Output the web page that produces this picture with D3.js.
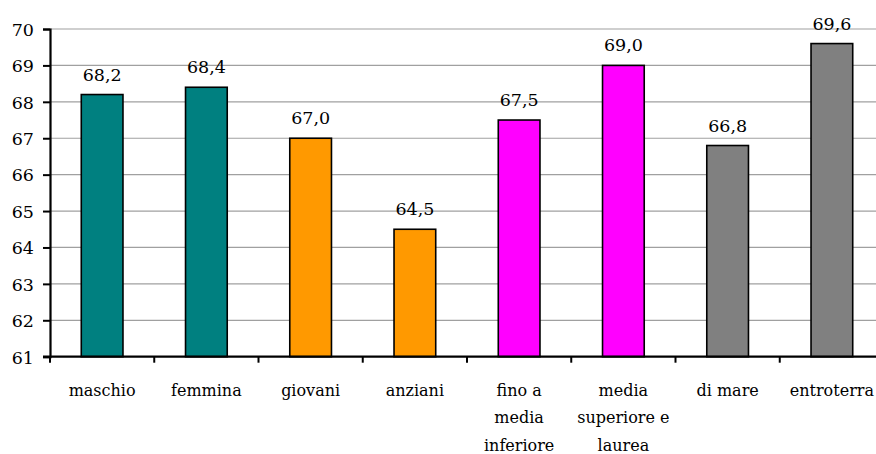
<!DOCTYPE html>
<html>
<head>
<meta charset="utf-8">
<script src="https://cdn.jsdelivr.net/npm/d3@7"></script>
<style>
  html, body { margin: 0; padding: 0; background: #fff; }
  svg { display: block; }
</style>
</head>
<body>
<svg id="chart" width="876" height="454"></svg>
<script>
// Categories (multi-line labels split on "\n")
const categories = [
  "maschio",
  "femmina",
  "giovani",
  "anziani",
  "fino a\nmedia\ninferiore",
  "media\nsuperiore e\nlaurea",
  "di mare",
  "entroterra"
];
const values = [68.2, 68.4, 67.0, 64.5, 67.5, 69.0, 66.8, 69.6];
const barColors = ["#008080", "#008080", "#FF9900", "#FF9900", "#FF00FF", "#FF00FF", "#808080", "#808080"];
const yTicks = [61, 62, 63, 64, 65, 66, 67, 68, 69, 70];

const FONT = "'DejaVu Serif', serif";
const FS = 17.5;      // tick and value labels
const FS_CAT = 16;    // category labels
const svg = d3.select("#chart");
const margin = { left: 50, top: 29, right: 884, bottom: 356.7 };

const x = d3.scaleBand()
  .domain(categories)
  .range([margin.left, margin.right])
  .paddingInner(0.6)
  .paddingOuter(0.3);

const y = d3.scaleLinear().domain([61, 70]).range([margin.bottom, margin.top]);

// horizontal gridlines
svg.append("g")
  .selectAll("line")
  .data(yTicks.filter(d => d > 61))
  .join("line")
  .attr("x1", margin.left)
  .attr("x2", margin.right)
  .attr("y1", d => y(d))
  .attr("y2", d => y(d))
  .attr("stroke", "#a0a0a0")
  .attr("stroke-width", 1.2);

// bars
svg.append("g")
  .selectAll("rect")
  .data(categories)
  .join("rect")
  .attr("x", d => x(d))
  .attr("width", x.bandwidth())
  .attr("y", (d, i) => y(values[i]))
  .attr("height", (d, i) => y(61) - y(values[i]))
  .attr("fill", (d, i) => barColors[i])
  .attr("stroke", "#000")
  .attr("stroke-width", 1.6);

// value labels
const fmt = v => v.toFixed(1).replace(".", ",");
svg.append("g")
  .selectAll("text")
  .data(categories)
  .join("text")
  .attr("x", d => x(d) + x.bandwidth() / 2)
  .attr("y", (d, i) => y(values[i]) - 14)
  .attr("text-anchor", "middle")
  .style("font-family", FONT)
  .attr("font-size", FS)
  .text((d, i) => fmt(values[i]));

// y axis
const yAxis = svg.append("g")
  .attr("transform", `translate(${margin.left},0)`)
  .call(d3.axisLeft(y).tickValues(yTicks).tickSize(7).tickPadding(9).tickFormat(d3.format("d")));
yAxis.attr("font-size", FS);
yAxis.selectAll("text").style("font-family", FONT).attr("dy", "0.36em");
yAxis.select(".domain").attr("stroke-width", 2.2);
yAxis.selectAll(".tick line").attr("stroke-width", 2);

// x axis: ticks at band boundaries
const bandStep = x.step();
const boundaries = d3.range(categories.length + 1).map(i => margin.left + i * bandStep);
const xg = svg.append("g");
xg.append("line")
  .attr("x1", margin.left - 7).attr("x2", margin.right)
  .attr("y1", y(61)).attr("y2", y(61))
  .attr("stroke", "#000").attr("stroke-width", 2.2);
xg.selectAll("line.tk")
  .data(boundaries)
  .join("line")
  .attr("class", "tk")
  .attr("x1", d => d).attr("x2", d => d)
  .attr("y1", y(61)).attr("y2", y(61) + 6)
  .attr("stroke", "#000").attr("stroke-width", 2);

// category labels
const lab = svg.append("g")
  .selectAll("text")
  .data(categories)
  .join("text")
  .attr("x", d => x(d) + x.bandwidth() / 2)
  .attr("y", 396)
  .attr("text-anchor", "middle")
  .style("font-family", FONT)
  .attr("font-size", FS_CAT);
lab.each(function(d) {
  const t = d3.select(this);
  d.split("\n").forEach((line, i) => {
    t.append("tspan")
      .attr("x", x(d) + x.bandwidth() / 2)
      .attr("dy", i === 0 ? 0 : 27.3)
      .text(line);
  });
});
</script>
</body>
</html>
